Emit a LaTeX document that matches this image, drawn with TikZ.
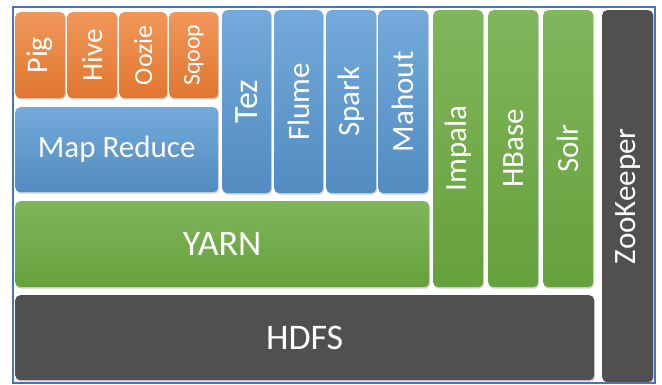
\documentclass[tikz,border=0pt]{standalone}
\usepackage{fontspec}
\setmainfont{Carlito}
\usetikzlibrary{shadows}

\definecolor{hadooporange}{HTML}{ED7D31}
\definecolor{hadoopblue}{HTML}{5B9BD5}
\definecolor{hadoopgreen}{HTML}{6AA93F}
\definecolor{hadoopgray}{HTML}{505050}
\definecolor{framecolor}{HTML}{4472C4}

\begin{document}
\begin{tikzpicture}[x=1pt, y=1pt,
	part/.style={rounded corners=5pt, inner sep=0pt, anchor=north west,
		drop shadow={opacity=0.35, shadow xshift=1pt, shadow yshift=-1.5pt}},
	orangepart/.style={part, top color=hadooporange!80!white, bottom color=hadooporange!95!black},
	bluepart/.style={part, top color=hadoopblue!85!white, bottom color=hadoopblue!90!black},
	greenpart/.style={part, top color=hadoopgreen!85!white, bottom color=hadoopgreen!95!black},
	graypart/.style={part, fill=hadoopgray},
	txt/.style={text=white, inner sep=0pt, font=\fontsize{31}{31}\selectfont},
	bigtxt/.style={txt, font=\fontsize{36}{36}\selectfont}]
	
	\useasboundingbox[fill=white] (0,0) rectangle (662,385);
	\draw[framecolor, line width=2pt] (13,378) rectangle (655,2);
	
	% top row
	\node[orangepart, minimum width=50pt, minimum height=86pt] (pig) at (15,373) {};
	\node[orangepart, minimum width=50pt, minimum height=86pt] (hive) at (67,373) {};
	\node[orangepart, minimum width=48pt, minimum height=86pt] (oozie) at (119,373) {};
	\node[orangepart, minimum width=49pt, minimum height=86pt] (sqoop) at (169,373) {};
	\node[bluepart, minimum width=203pt, minimum height=85pt] (mapreduce) at (15,278) {};
	
	\node[bluepart, minimum width=49pt, minimum height=183pt] (tez) at (222,375) {};
	\node[bluepart, minimum width=49pt, minimum height=183pt] (flume) at (274,375) {};
	\node[bluepart, minimum width=50pt, minimum height=183pt] (spark) at (326,375) {};
	\node[bluepart, minimum width=50pt, minimum height=183pt] (mahout) at (378,375) {};
	
	\node[greenpart, minimum width=50pt, minimum height=277pt] (impala) at (433,375) {};
	\node[greenpart, minimum width=50pt, minimum height=277pt] (hbase) at (488,375) {};
	\node[greenpart, minimum width=50pt, minimum height=277pt] (solr) at (543,375) {};
	\node[greenpart, minimum width=414pt, minimum height=86pt] (yarn) at (15,184) {};
	
	\node[graypart, minimum width=51pt, minimum height=372pt] (zookeeper) at (602,375) {};
	\node[graypart, minimum width=579pt, minimum height=85pt] (hdfs) at (15,90) {};
	
	% labels
	\node[txt, rotate=90, font=\fontsize{30}{30}\selectfont] at (pig) {Pig};
	\node[txt, rotate=90, font=\fontsize{29}{29}\selectfont] at (hive) {Hive};
	\node[txt, rotate=90, font=\fontsize{26}{26}\selectfont] at (oozie) {Oozie};
	\node[txt, rotate=90, font=\fontsize{24}{24}\selectfont] at (sqoop) {Sqoop};
	\node[txt] at (mapreduce) {Map Reduce};
	\node[txt, rotate=90, font=\fontsize{34}{34}\selectfont] at (tez) {Tez};
	\node[txt, rotate=90] at (flume) {Flume};
	\node[txt, rotate=90] at (spark) {Spark};
	\node[txt, rotate=90] at (mahout) {Mahout};
	\node[txt, rotate=90] at (impala) {Impala};
	\node[txt, rotate=90] at (hbase) {HBase};
	\node[txt, rotate=90] at (solr) {Solr};
	\node[txt, rotate=90] at (zookeeper) {ZooKeeper};
	\node[bigtxt] at (yarn) {YARN};
	\node[bigtxt] at (hdfs) {HDFS};
\end{tikzpicture}
\end{document}
